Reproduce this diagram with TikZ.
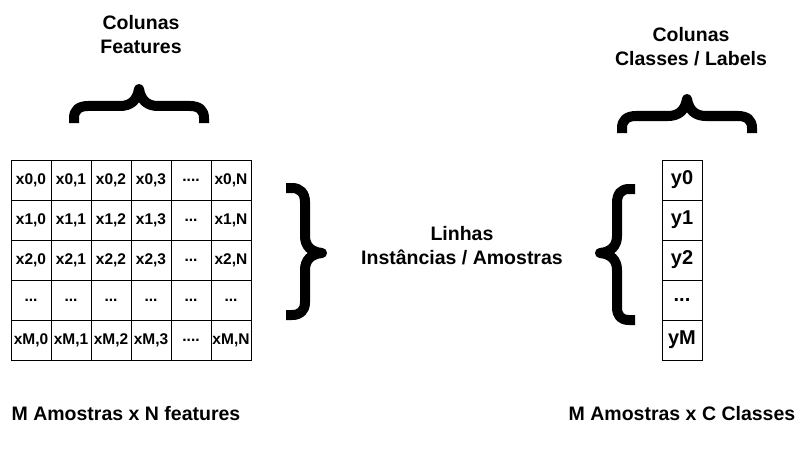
\documentclass[tikz,border=0pt]{standalone}
\usepackage{fontspec}
\setmainfont{Liberation Sans}
\begin{document}
\begin{tikzpicture}[x=1pt,y=-1pt,
  cell/.style={draw=black,line width=1pt,minimum width=40pt,minimum height=40pt,inner sep=0pt,
    font=\fontsize{15.5}{18}\selectfont\bfseries},
  ycell/.style={draw=black,line width=1pt,minimum width=40pt,minimum height=40pt,inner sep=0pt,
    font=\fontsize{20}{24}\selectfont\bfseries},
  lbl/.style={align=center,inner sep=0pt,font=\fontsize{19.5}{24}\selectfont\bfseries},
  bracestroke/.style={line width=10pt,line join=round,line cap=butt,black}]
\useasboundingbox (0,0) rectangle (812,452);

% feature matrix
\node[cell] (c00) at (31,180) {x0,0};
\node[cell] (c01) at (71,180) {x0,1};
\node[cell] (c02) at (111,180) {x0,2};
\node[cell] (c03) at (151,180) {x0,3};
\node[cell] (c04) at (191,180) {....};
\node[cell] (c05) at (231,180) {x0,N};
\node[cell] (c10) at (31,220) {x1,0};
\node[cell] (c11) at (71,220) {x1,1};
\node[cell] (c12) at (111,220) {x1,2};
\node[cell] (c13) at (151,220) {x1,3};
\node[cell] (c14) at (191,220) {...};
\node[cell] (c15) at (231,220) {x1,N};
\node[cell] (c20) at (31,260) {x2,0};
\node[cell] (c21) at (71,260) {x2,1};
\node[cell] (c22) at (111,260) {x2,2};
\node[cell] (c23) at (151,260) {x2,3};
\node[cell] (c24) at (191,260) {...};
\node[cell] (c25) at (231,260) {x2,N};
\node[cell] (c30) at (31,300) {...};
\node[cell] (c31) at (71,300) {...};
\node[cell] (c32) at (111,300) {...};
\node[cell] (c33) at (151,300) {...};
\node[cell] (c34) at (191,300) {...};
\node[cell] (c35) at (231,300) {...};
\node[cell] (c40) at (31,340) {xM,0};
\node[cell] (c41) at (71,340) {xM,1};
\node[cell] (c42) at (111,340) {xM,2};
\node[cell] (c43) at (151,340) {xM,3};
\node[cell] (c44) at (191,340) {....};
\node[cell] (c45) at (231,340) {xM,N};

% label column
\node[ycell] (y0) at (682,180) {y0};
\node[ycell] (y1) at (682,220) {y1};
\node[ycell] (y2) at (682,260) {y2};
\node[ycell] (y3) at (682,300) {...};
\node[ycell] (yM) at (682,340) {yM};

% texts
\node[lbl] (featlbl) at (141,35) {Colunas\\Features};
\node[lbl] (classlbl) at (691,47) {Colunas\\Classes / Labels};
\node[lbl] (linhas) at (462,246) {Linhas\\Instâncias / Amostras};
\node[lbl] (botl) at (126,414) {M Amostras x N features};
\node[lbl] (botr) at (682,414) {M Amostras x C Classes};

% top brace over features
\draw[bracestroke] (74,123) -- (74,118) .. controls (74,110) and (79,106) .. (88,106)
  -- (120,106) .. controls (130,106) and (137,101) .. (139,89)
  .. controls (141,101) and (148,106) .. (158,106) -- (190,106)
  .. controls (199,106) and (204,110) .. (204,118) -- (204,123);

% top brace over classes
\begin{scope}[shift={(548,10)}]
\draw[bracestroke] (74,123) -- (74,118) .. controls (74,110) and (79,106) .. (88,106)
  -- (120,106) .. controls (130,106) and (137,101) .. (139,89)
  .. controls (141,101) and (148,106) .. (158,106) -- (190,106)
  .. controls (199,106) and (204,110) .. (204,118) -- (204,123);
\end{scope}

% right brace next to matrix
\draw[bracestroke] (286,188) -- (292,188) .. controls (300,188) and (305,193) .. (305,202)
  -- (305,236) .. controls (305,246) and (311,252) .. (322,253)
  .. controls (311,254) and (305,260) .. (305,270) -- (305,302)
  .. controls (305,311) and (300,315) .. (292,315) -- (286,315);

% left brace next to label column
\draw[bracestroke] (635,189) -- (629,189) .. controls (621,189) and (617,194) .. (617,203)
  -- (617,236) .. controls (617,246) and (611,252) .. (600,253)
  .. controls (611,254) and (617,260) .. (617,270) -- (617,307)
  .. controls (617,316) and (621,320) .. (629,320) -- (635,320);
\end{tikzpicture}
\end{document}
